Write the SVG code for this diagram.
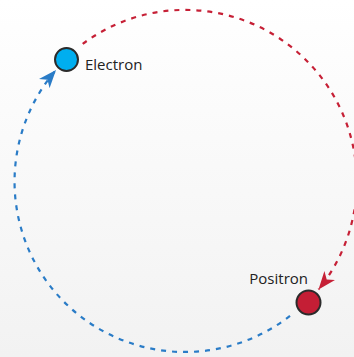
<svg xmlns="http://www.w3.org/2000/svg" width="354" height="357" viewBox="0 0 354 357">
<defs>
<linearGradient id="bg" x1="0" y1="0" x2="0" y2="1">
<stop offset="0" stop-color="#ffffff"/>
<stop offset="1" stop-color="#f2f2f2"/>
</linearGradient>
<marker id="arrRed" markerUnits="userSpaceOnUse" viewBox="0 0 18 14" refX="18" refY="7" markerWidth="18" markerHeight="14" orient="auto">
<path d="M0,0 L18,7 L0,14 L5,7 Z" fill="#c62036"/>
</marker>
<marker id="arrBlue" markerUnits="userSpaceOnUse" viewBox="0 0 18 14" refX="18" refY="7" markerWidth="18" markerHeight="14" orient="auto">
<path d="M0,0 L18,7 L0,14 L5,7 Z" fill="#2a7cc7"/>
</marker>
<style>
.conn{fill:none;stroke-width:2.2;stroke-dasharray:5 6}
.red{stroke:#c62036}
.blue{stroke:#2a7cc7}
.particle{stroke:#2b2b2b;stroke-width:2}
.label{font-family:"Open Sans","Liberation Sans",sans-serif;font-size:15px;fill:#222}
</style>
</defs>
<rect x="0" y="0" width="354" height="357" fill="url(#bg)"/>
<g id="connectors">
<path class="conn red" d="M82.7,43.9 A171,171 0 0 1 308.5,62.6 A171,171 0 0 1 318.5,289.5" marker-end="url(#arrRed)"/>
<path class="conn blue" d="M290,315.9 A171,171 0 0 1 61.4,299.2 A171,171 0 0 1 56,70" marker-end="url(#arrBlue)"/>
</g>
<g id="electron">
<circle class="particle" cx="66.5" cy="59.5" r="11.5" fill="#00aeef"/>
<text class="label" x="85" y="70">Electron</text>
</g>
<g id="positron">
<circle class="particle" cx="308.5" cy="302.5" r="12" fill="#c41e35"/>
<text class="label" x="308" y="284" text-anchor="end">Positron</text>
</g>
</svg>
